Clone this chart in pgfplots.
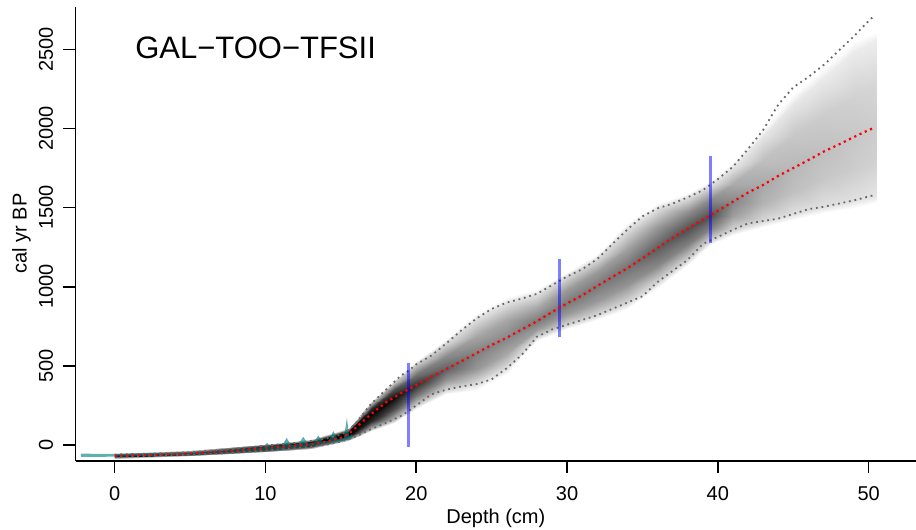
\documentclass[border=0pt]{standalone}
\usepackage{fontspec}
\setmainfont{Liberation Sans}
\usepackage{pgfplots}
\pgfplotsset{compat=1.18}
\usepackage{pgfplotstable}
\definecolor{tealc}{RGB}{0,128,128}
\definecolor{dotgray}{RGB}{105,105,105}

% age-model shading: depth, age, density (0 = white, 1 = black)
\pgfplotstableread{
d a c
0 -86 0
0 -78 .6
0 -73 .95
0 -68 1
0 -63 .95
0 -58 .6
0 -50 0

5 -72 0
5 -64 .6
5 -58 .95
5 -53 1
5 -48 .95
5 -42 .6
5 -34 0

10 -46 0
10 -38 .6
10 -28 .95
10 -20 1
10 -12 .95
10 -2 .6
10 6 0

13 -24 0
13 -14 .6
13 -2 .95
13 6 1
13 16 .95
13 28 .6
13 38 0

15.5 28 0
15.5 38 .5
15.5 55 .95
15.5 70 1
15.5 82 .95
15.5 95 .5
15.5 108 0

17 90 0
17 105 .35
17 150 .85
17 195 1
17 228 .85
17 260 .35
17 278 0

18.5 140 0
18.5 160 .25
18.5 230 .7
18.5 300 .95
18.5 345 .7
18.5 390 .25
18.5 410 0

20 230 0
20 250 .2
20 315 .55
20 380 .8
20 445 .55
20 510 .2
20 530 0

22 325 0
22 350 .15
22 415 .45
22 480 .62
22 561 .45
22 643 .15
22 670 0

24 350 0
24 385 .12
24 483 .4
24 581 .5
24 690 .35
24 800 .12
24 835 0

26 450 0
26 485 .12
26 581 .35
26 678 .47
26 789 .35
26 900 .12
26 935 0

28 655 0
28 684 .15
28 733 .4
28 782 .52
28 868 .35
28 955 .12
28 985 0

30 730 0
30 760 .15
30 828 .4
30 895 .52
30 980 .4
30 1065 .15
30 1095 0

32 790 0
32 820 .15
32 912 .4
32 1005 .52
32 1090 .4
32 1175 .15
32 1205 0

34 860 0
34 900 .15
34 1008 .42
34 1117 .55
34 1240 .37
34 1362 .12
34 1400 0

36 995 0
36 1030 .15
36 1137 .47
36 1245 .63
36 1370 .42
36 1495 .12
36 1530 0

38 1140 0
38 1170 .15
38 1268 .5
38 1367 .68
38 1466 .46
38 1565 .12
38 1595 0

39.5 1265 0
39.5 1290 .15
39.5 1370 .5
39.5 1450 .68
39.5 1545 .46
39.5 1640 .12
39.5 1670 0

41 1330 0
41 1360 .15
41 1448 .38
41 1537 .47
41 1648 .33
41 1758 .1
41 1790 0

43 1380 0
43 1415 .15
43 1529 .3
43 1643 .34
43 1800 .25
43 1950 .1
43 2000 0

45 1420 0
45 1460 .12
45 1605 .25
45 1750 .28
45 1950 .22
45 2150 .1
45 2220 0

47 1465 0
47 1505 .12
47 1679 .22
47 1853 .25
47 2080 .2
47 2320 .08
47 2380 0

49 1500 0
49 1545 .12
49 1745 .2
49 1945 .22
49 2200 .18
49 2480 .08
49 2550 0

50.5 1530 0
50.5 1575 .1
50.5 1790 .18
50.5 2010 .2
50.5 2280 .16
50.5 2560 .07
50.5 2610 0
}\shadetab

% depth, lower 95%, mean, upper 95%
\pgfplotstableread{
d lo mean up
0 -75 -68 -60
2.5 -68 -62 -55
5 -62 -53 -45
7.5 -52 -40 -28
10 -36 -20 -4
12.5 -16 0 18
14 2 20 40
15 22 45 65
15.5 36 70 92
16 55 110 140
17 100 195 260
18 140 270 350
19 185 328 440
19.5 215 352 470
20 250 380 510
21 320 432 565
22 350 480 643
23 370 530 725
24 385 581 800
25 415 632 860
26 485 678 900
27 570 730 925
28 684 782 955
29 730 840 1010
30 760 895 1065
31 790 945 1110
32 820 1005 1175
33 860 1062 1270
34 900 1117 1362
35 940 1180 1445
36 1030 1245 1495
37 1100 1310 1525
38 1170 1367 1565
39 1270 1425 1610
40 1315 1480 1680
41 1360 1537 1758
42 1400 1595 1870
43 1415 1643 1990
44 1430 1700 2150
45 1460 1750 2260
46 1490 1800 2325
47 1505 1853 2400
48 1525 1898 2490
49 1545 1945 2580
50 1570 1990 2680
50.4 1580 2005 2715
}\bounds

\begin{document}
\begin{tikzpicture}
\begin{axis}[
  scale only axis, width=840.3pt, height=454.1pt,
  xmin=-2.586, xmax=53.14, ymin=-99.2, ymax=2770,
  axis lines*=left,
  axis line style={line width=1.6pt, -},
  xtick={0,10,...,50}, ytick={0,500,...,2500},
  tick align=outside, major tick length=12.5pt,
  tick style={line width=1.6pt, black},
  /pgf/number format/assume math mode=true,
  /pgf/number format/1000 sep={},
  ticklabel style={font=\fontsize{20}{24}\selectfont},
  xticklabel style={anchor=north, inner sep=0pt, yshift=-12.8pt},
  yticklabel style={xshift=-9.9pt, rotate=90, anchor=south, inner sep=0pt},
  xlabel={Depth (cm)}, ylabel={cal yr BP},
  label style={font=\fontsize{20}{24}\selectfont},
  xlabel style={at={([yshift=-62.6pt]axis description cs:0.5,0)}, anchor=base, inner sep=0pt},
  ylabel style={at={([xshift=-49pt]axis description cs:0,0.5)}, anchor=base, inner sep=0pt},
  colormap={bw}{color=(white) color=(black)},
  point meta min=0, point meta max=1,
]
\coordinate (bl) at (rel axis cs:0,0);
\coordinate (tr) at (rel axis cs:1,1);

\addplot[surf, shader=interp, mesh/cols=7, point meta=explicit]
  table[x=d, y=a, meta=c] {\shadetab};

% 210Pb-type (teal) age distributions in the top section
\addplot[fill=tealc, fill opacity=0.62, draw=none] coordinates {
(-2.25,-55) (0,-56) (3,-49) (6,-39) (8,-29) (9.5,-18) (9.9,-14) (10.1,14) (10.3,-10)
(11.1,-4) (11.4,45) (11.7,0) (12.2,6) (12.5,52) (12.8,10) (13.2,14) (13.5,60) (13.8,20)
(14.2,26) (14.5,88) (14.8,34) (15.2,44) (15.4,172) (15.55,54) (15.75,68)
(15.75,44) (15,22) (14,6) (12.5,-12) (10,-34) (8,-48) (5,-62) (2,-70) (0,-74) (-2.25,-75)
} -- cycle;

\addplot[dotgray, line width=1.8pt, dash pattern=on 1.8pt off 3.8pt] table[x=d, y=lo] {\bounds};
\addplot[dotgray, line width=1.8pt, dash pattern=on 1.8pt off 3.8pt] table[x=d, y=up] {\bounds};

\addplot[blue, draw opacity=0.5, line width=2.6pt] coordinates {(19.5,-13) (19.5,519)};
\addplot[blue, draw opacity=0.5, line width=2.6pt] coordinates {(29.5,685) (29.5,1175)};
\addplot[blue, draw opacity=0.5, line width=2.6pt] coordinates {(39.5,1274) (39.5,1826)};

\addplot[red, line width=2.2pt, dash pattern=on 2.2pt off 3.6pt] table[x=d, y=mean] {\bounds};

\node[anchor=base west, inner sep=0pt, font=\fontsize{31}{36}\selectfont] at (axis cs:1.35,2445) {GAL−TOO−TFSII};
\end{axis}
\pgfresetboundingbox
\useasboundingbox ([xshift=-75.7pt,yshift=-69.3pt]bl) rectangle ([yshift=6.6pt]tr);
\end{tikzpicture}
\end{document}
